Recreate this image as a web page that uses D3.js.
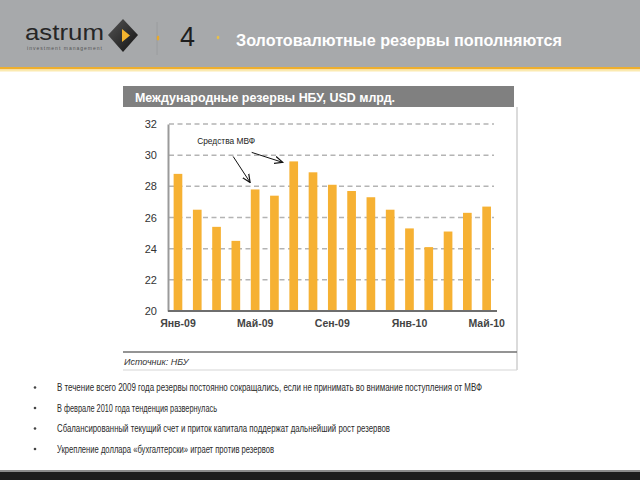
<!DOCTYPE html>
<html><head><meta charset="utf-8">
<script src="https://cdn.jsdelivr.net/npm/d3@7"></script>
<style>body{margin:0;background:#fff}svg{display:block}</style>
</head><body><svg id="c" width="640" height="480"></svg>
<script>
const months = ["Янв-09","Фев-09","Мар-09","Апр-09","Май-09","Июн-09","Июл-09","Авг-09","Сен-09","Окт-09","Ноя-09","Дек-09","Янв-10","Фев-10","Мар-10","Апр-10","Май-10"];
const reserves = [28.8,26.5,25.4,24.5,27.8,27.4,29.6,28.9,28.1,27.7,27.3,26.5,25.3,24.1,25.1,26.3,26.7];
const tickLabels = ["Янв-09","Май-09","Сен-09","Янв-10","Май-10"];
const yTicks = [20,22,24,26,28,30,32];
const imfMonths = ["Май-09","Июл-09"];
const pageTitle = "Золотовалютные резервы пополняются";
const slideNo = "4";
const chartTitle = "Международные резервы НБУ, USD млрд.";
const sourceText = "Источник: НБУ";
const annotation = "Средства МВФ";
const bullets = [
 "В течение всего 2009 года резервы постоянно сокращались, если не принимать во внимание поступления от МВФ",
 "В феврале 2010 года тенденция развернулась",
 "Сбалансированный текущий счет и приток капитала поддержат дальнейший рост резервов",
 "Укрепление доллара «бухгалтерски» играет против резервов"
];
const bulletWidths = [425,160,333,217];

const svg = d3.select("#c");
const F = "Arial, 'Liberation Sans', sans-serif";

// header
svg.append("rect").attr("x",0).attr("y",0).attr("width",640).attr("height",67).attr("fill","#a7a9ab");
svg.append("rect").attr("x",0).attr("y",67).attr("width",640).attr("height",2.5).attr("fill","#eeaf2e");
svg.append("rect").attr("x",0).attr("y",69.5).attr("width",640).attr("height",2).attr("fill","#fbeab0");
svg.append("text").attr("x",25).attr("y",40).attr("font-family",F).attr("font-size",22).attr("fill","#262626")
  .attr("textLength",79).attr("lengthAdjust","spacingAndGlyphs").text("astrum");
svg.append("text").attr("x",27).attr("y",49.5).attr("font-family",F).attr("font-size",5).attr("fill","#555")
  .attr("textLength",75).attr("lengthAdjust","spacing").text("investment management");
const dg = svg.append("defs").append("linearGradient").attr("id","dg").attr("x1",0).attr("y1",0).attr("x2",1).attr("y2",1);
dg.append("stop").attr("offset","0").attr("stop-color","#555");
dg.append("stop").attr("offset","1").attr("stop-color","#111");
svg.append("path").attr("d","M123,19 L138,35 L123,52 L108,35 Z").attr("fill","url(#dg)");
svg.append("path").attr("d","M122,29 L130,35.5 L122,42 Z").attr("fill","#f5b52e");
svg.append("line").attr("x1",157).attr("x2",157).attr("y1",22).attr("y2",55).attr("stroke","#9a9c9e").attr("stroke-width",1);
svg.append("ellipse").attr("cx",158).attr("cy",38).attr("rx",1.3).attr("ry",2.5).attr("fill","#e8a92a");
svg.append("text").attr("x",180).attr("y",46).attr("font-family",F).attr("font-size",27).attr("fill","#1e1e1e").text(slideNo);
svg.append("ellipse").attr("cx",218).attr("cy",37.5).attr("rx",1.3).attr("ry",1.8).attr("fill","#e8c04a");
svg.append("text").attr("x",236).attr("y",46).attr("font-family",F).attr("font-weight","bold").attr("font-size",17).attr("fill","#fff")
  .attr("textLength",326).attr("lengthAdjust","spacingAndGlyphs").text(pageTitle);

// chart panel
svg.append("rect").attr("x",123).attr("y",86).attr("width",391).attr("height",21).attr("fill","#808080");
svg.append("text").attr("x",135).attr("y",102).attr("font-family",F).attr("font-weight","bold").attr("font-size",12).attr("fill","#fff")
  .attr("textLength",260).attr("lengthAdjust","spacingAndGlyphs").text(chartTitle);
svg.append("line").attr("x1",517).attr("x2",517).attr("y1",107).attr("y2",370).attr("stroke","#cfcfcf").attr("stroke-width",1.5);
svg.append("line").attr("x1",123).attr("x2",517).attr("y1",370).attr("y2",370).attr("stroke","#d5d5d5").attr("stroke-width",1.2);
svg.append("line").attr("x1",123).attr("x2",517).attr("y1",352).attr("y2",352).attr("stroke","#707070").attr("stroke-width",1.5);
svg.append("text").attr("x",124).attr("y",365).attr("font-family",F).attr("font-style","italic").attr("font-size",9).attr("fill","#333").text(sourceText);

const x = d3.scaleBand().domain(months).range([168.8,495.8]).paddingInner(0.55).paddingOuter(0.25);
const y = d3.scaleLinear().domain([20,32]).range([311,124]);

// grid
svg.append("g").selectAll("line").data(yTicks.filter(d=>d>20)).join("line")
  .attr("x1",169).attr("x2",494).attr("y1",d=>y(d)).attr("y2",d=>y(d))
  .attr("stroke","#b4b4b4").attr("stroke-width",1.5).attr("stroke-dasharray","5,3.5");

// bars
svg.append("g").selectAll("rect").data(months).join("rect")
  .attr("x",d=>x(d)).attr("width",x.bandwidth())
  .attr("y",(d,i)=>y(reserves[i])).attr("height",(d,i)=>y(20)-y(reserves[i]))
  .attr("fill","#f6b133");

// y axis
const ya = svg.append("g").attr("transform","translate(168,0)")
  .call(d3.axisLeft(y).tickValues(yTicks).tickSize(0).tickPadding(11));
ya.select(".domain").attr("stroke","#9a9a9a").attr("stroke-width",2);
ya.selectAll("text").attr("font-family",F).attr("font-size",11).attr("fill","#333");

// x axis
const xa = svg.append("g").attr("transform","translate(0,311)")
  .call(d3.axisBottom(x).tickValues(tickLabels).tickSize(0).tickPadding(9));
xa.select(".domain").attr("stroke","#6e6e6e").attr("stroke-width",2.2).attr("d","M168,0H497");
xa.selectAll("text").attr("font-family",F).attr("font-size",10.5).attr("font-weight","bold").attr("fill","#444");

// annotation
const defs = svg.select("defs");
defs.append("marker").attr("id","ah").attr("viewBox","0 0 10 10").attr("refX",9).attr("refY",5)
  .attr("markerWidth",9).attr("markerHeight",9).attr("orient","auto").attr("markerUnits","userSpaceOnUse")
  .append("path").attr("d","M0,1 L9,5 L0,9").attr("fill","none").attr("stroke","#111").attr("stroke-width",1.3);
const m1 = imfMonths[0], m2 = imfMonths[1];
const c1 = x(m1)+x.bandwidth()/2, t1 = y(reserves[months.indexOf(m1)]);
const c2 = x(m2)+x.bandwidth()/2, t2 = y(reserves[months.indexOf(m2)]);
svg.append("text").attr("x",c1-58).attr("y",t1-45).attr("font-family",F).attr("font-size",9).attr("fill","#222")
  .attr("textLength",58).attr("lengthAdjust","spacingAndGlyphs").text(annotation);
svg.append("line").attr("x1",c1-22).attr("y1",t1-33).attr("x2",c1-5).attr("y2",t1-7)
  .attr("stroke","#111").attr("stroke-width",1).attr("marker-end","url(#ah)");
svg.append("line").attr("x1",c2-42).attr("y1",t2-9).attr("x2",c2-11).attr("y2",t2+1)
  .attr("stroke","#111").attr("stroke-width",1).attr("marker-end","url(#ah)");

// bullets
const bg = svg.append("g");
bullets.forEach((b,i)=>{
  const yy = 391 + i*20.5;
  bg.append("circle").attr("cx",35).attr("cy",yy-3.5).attr("r",1.3).attr("fill","#444");
  bg.append("text").attr("x",57).attr("y",yy).attr("font-family",F).attr("font-size",10.5).attr("fill","#2a2a2a")
    .attr("textLength",bulletWidths[i]).attr("lengthAdjust","spacingAndGlyphs").text(b);
});

// footer
svg.append("rect").attr("x",0).attr("y",470).attr("width",640).attr("height",2).attr("fill","#8a8a8a");
svg.append("rect").attr("x",0).attr("y",472).attr("width",640).attr("height",8).attr("fill","#1c1c1c");
</script></body></html>
